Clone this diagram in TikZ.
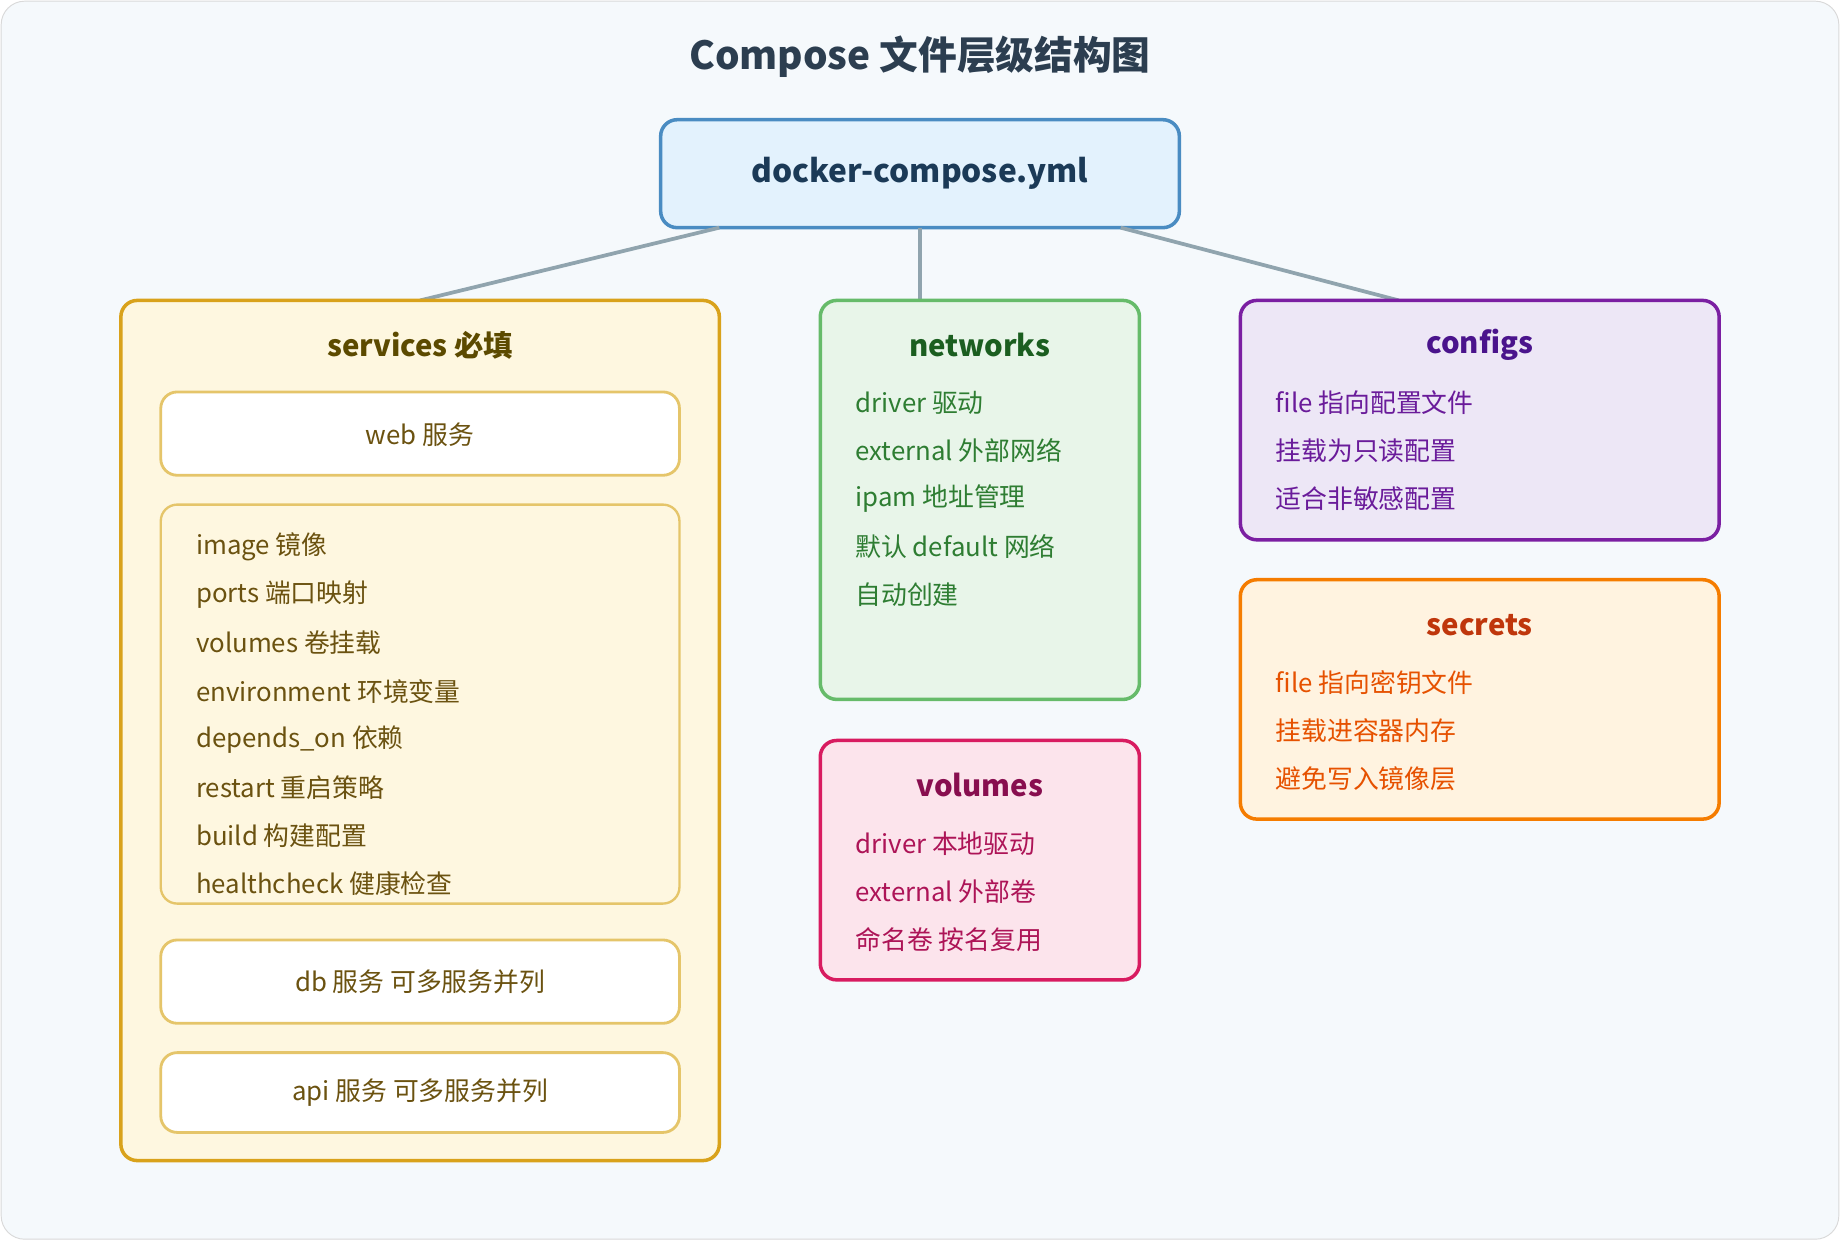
\documentclass[tikz,border=0pt]{standalone}
\usepackage{fontspec}
\setmainfont{Noto Sans CJK SC}
\begin{document}
\begin{tikzpicture}[x=0.5pt,y=-0.5pt,
 box/.style={draw, line width=1.5pt, rounded corners=7pt},
 ttl/.style={font=\fontsize{12.5}{14}\selectfont\bfseries},
 itm/.style={anchor=west, font=\fontsize{11}{13}\selectfont},
 conn/.style={draw=cline, line width=1.6pt}]
\definecolor{bg}{HTML}{F5F9FC}
\definecolor{cline}{HTML}{90A4AE}
\definecolor{svF}{HTML}{FEF7E0}\definecolor{svD}{HTML}{D9A21B}\definecolor{svT}{HTML}{5C4A00}\definecolor{svI}{HTML}{6B5210}\definecolor{svB}{HTML}{E5C56A}
\definecolor{nwF}{HTML}{E8F5E9}\definecolor{nwD}{HTML}{66BB6A}\definecolor{nwT}{HTML}{1B5E20}\definecolor{nwI}{HTML}{2E7D32}
\definecolor{vlF}{HTML}{FCE4EC}\definecolor{vlD}{HTML}{D81B60}\definecolor{vlT}{HTML}{880E4F}\definecolor{vlI}{HTML}{AD1457}
\definecolor{cfF}{HTML}{EDE7F6}\definecolor{cfD}{HTML}{7B1FA2}\definecolor{cfT}{HTML}{4A148C}\definecolor{cfI}{HTML}{6A1B9A}
\definecolor{scF}{HTML}{FFF3E0}\definecolor{scD}{HTML}{F57C00}\definecolor{scT}{HTML}{BF360C}\definecolor{scI}{HTML}{E65100}
\definecolor{ttlc}{HTML}{2C3E50}
\useasboundingbox (0,0) rectangle (1568,1057);
\draw[fill=bg, draw=black!15, rounded corners=10pt] (1,1) rectangle (1567,1056);
\node[font=\fontsize{16.5}{18}\selectfont\bfseries, text=ttlc] (title2) at (784,48) {Compose 文件层级结构图};
% root
\definecolor{rtF}{HTML}{E3F2FD}\definecolor{rtD}{HTML}{4A8CC2}\definecolor{rtT}{HTML}{1B3A57}
\draw[box, fill=rtF, draw=rtD] (563,102) rectangle (1005,194);
\node[ttl, font=\fontsize{13.5}{15}\selectfont\bfseries, text=rtT] (root) at (784,148) {docker-compose.yml};
\coordinate (r1) at (613,194); \coordinate (r2) at (784,194); \coordinate (r3) at (955,194);
\coordinate (s1) at (358,256); \coordinate (s2) at (784,256); \coordinate (s3) at (1192,256);
\draw[conn] (r1) -- (s1); \draw[conn] (r2) -- (s2); \draw[conn] (r3) -- (s3);
% services
\draw[box, fill=svF, draw=svD] (103,256) rectangle (613,989);
\node[ttl, text=svT] (svt) at (358,294) {services 必填};
\draw[box, line width=1.2pt, fill=white, draw=svB] (137,334) rectangle (579,405);
\node[itm, anchor=center, text=svI] (web) at (358,370) {web 服务};
\draw[box, line width=1pt, fill=svF, draw=svB] (137,430) rectangle (579,770);
\foreach \t [count=\i from 0] in {image 镜像, ports 端口映射, volumes 卷挂载, environment 环境变量, depends\_on 依赖, restart 重启策略, build 构建配置, healthcheck 健康检查}
  \node[itm, text=svI] (sv\i) at (160,466+41*\i) {\t};
\draw[box, line width=1.2pt, fill=white, draw=svB] (137,801) rectangle (579,872);
\node[itm, anchor=center, text=svI] (db) at (358,837) {db 服务 可多服务并列};
\draw[box, line width=1.2pt, fill=white, draw=svB] (137,897) rectangle (579,965);
\node[itm, anchor=center, text=svI] (api) at (358,931) {api 服务 可多服务并列};
% networks
\draw[box, fill=nwF, draw=nwD] (699,256) rectangle (971,596);
\node[ttl, text=nwT] (nwt) at (835,294) {networks};
\foreach \t [count=\i from 0] in {driver 驱动, external 外部网络, ipam 地址管理, 默认 default 网络, 自动创建}
  \node[itm, text=nwI] (nw\i) at (722,343+41*\i) {\t};
% volumes
\draw[box, fill=vlF, draw=vlD] (699,631) rectangle (971,835);
\node[ttl, text=vlT] (vlt) at (835,669) {volumes};
\foreach \t [count=\i from 0] in {driver 本地驱动, external 外部卷, 命名卷 按名复用}
  \node[itm, text=vlI] (vl\i) at (722,719+41*\i) {\t};
% configs
\draw[box, fill=cfF, draw=cfD] (1057,256) rectangle (1465,460);
\node[ttl, text=cfT] (cft) at (1261,294) {configs};
\foreach \t [count=\i from 0] in {file 指向配置文件, 挂载为只读配置, 适合非敏感配置}
  \node[itm, text=cfI] (cf\i) at (1080,343+41*\i) {\t};
% secrets
\draw[box, fill=scF, draw=scD] (1057,494) rectangle (1465,698);
\node[ttl, text=scT] (sct) at (1261,533) {secrets};
\foreach \t [count=\i from 0] in {file 指向密钥文件, 挂载进容器内存, 避免写入镜像层}
  \node[itm, text=scI] (sc\i) at (1080,582+41*\i) {\t};
\end{tikzpicture}
\end{document}
